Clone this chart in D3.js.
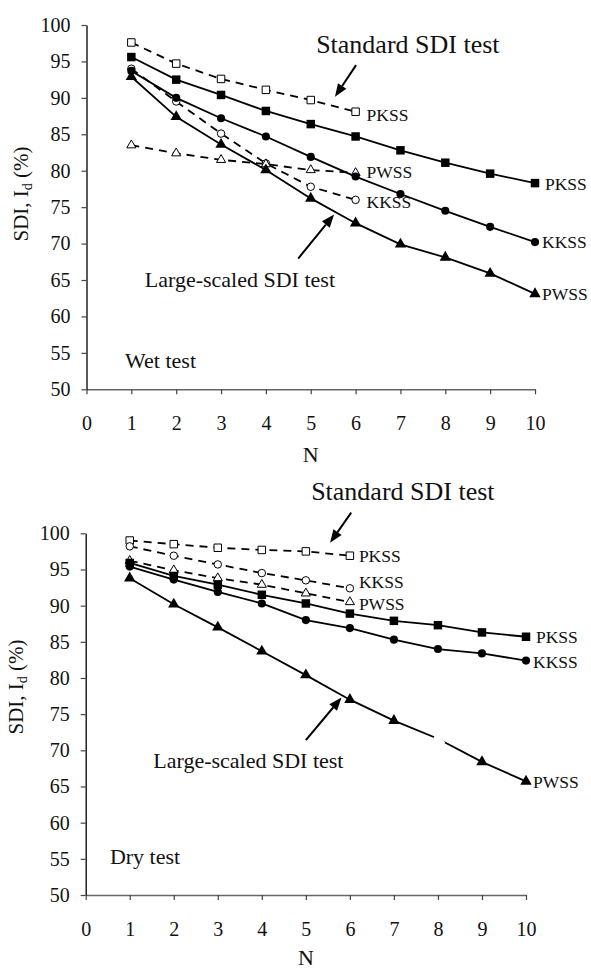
<!DOCTYPE html>
<html><head><meta charset="utf-8">
<script src="https://cdn.jsdelivr.net/npm/d3@7"></script>
<style>
html,body{margin:0;padding:0;background:#fff;}
text{font-family:"Liberation Serif","Times New Roman",serif;fill:#111;}
</style></head>
<body><svg id="c" width="591" height="970"></svg>
<script>
const N = [1,2,3,4,5,6,7,8,9,10];
const yTicks = [50,55,60,65,70,75,80,85,90,95,100];
const xTicks = [0,1,2,3,4,5,6,7,8,9,10];
const seriesNames = ["PKSS","KKSS","PWSS"];

// Wet test
const wetPKSSLarge = [95.6, 92.5, 90.4, 88.2, 86.4, 84.7, 82.8, 81.1, 79.6, 78.3];
const wetKKSSLarge = [93.7, 90.0, 87.2, 84.7, 81.9, 79.2, 76.8, 74.5, 72.3, 70.2];
const wetPWSSLarge = [92.9, 87.4, 83.6, 80.1, 76.2, 72.8, 69.9, 68.1, 65.9, 63.1];
const wetPKSSStd = [97.6, 94.7, 92.6, 91.1, 89.7, 88.1];
const wetKKSSStd = [94.0, 89.5, 85.1, 81.0, 77.8, 76.0];
const wetPWSSStd = [83.5, 82.4, 81.5, 80.9, 80.1, 79.7];

// Dry test
const dryPKSSLarge = [95.9, 94.1, 92.9, 91.5, 90.3, 88.9, 87.9, 87.3, 86.3, 85.7];
const dryKKSSLarge = [95.4, 93.6, 91.9, 90.3, 88.0, 86.9, 85.3, 84.0, 83.4, 82.4];
const dryPWSSLarge = [93.8, 90.2, 87.0, 83.7, 80.4, 77.0, 74.1, 71.6, 68.4, 65.7];
const dryPKSSStd = [99.0, 98.5, 98.0, 97.7, 97.5, 96.9];
const dryKKSSStd = [98.2, 96.9, 95.7, 94.5, 93.5, 92.4];
const dryPWSSStd = [96.2, 94.9, 93.8, 92.9, 91.7, 90.5];

const svg = d3.select("#c");

function panel(cfg){
  const x = d3.scaleLinear().domain([0,10]).range([cfg.x0, cfg.x1]);
  const y = d3.scaleLinear().domain([50,100]).range([cfg.yb, cfg.yt]);
  const g = svg.append("g");

  // x axis
  const xa = g.append("g").attr("transform",`translate(0,${cfg.yb})`)
    .call(d3.axisBottom(x).tickValues(xTicks).tickSize(5).tickSizeOuter(0).tickPadding(21.5).tickFormat(d3.format("d")));
  xa.select(".domain").attr("stroke","#666").attr("stroke-width",1.6);
  xa.selectAll(".tick line").attr("stroke","#444").attr("stroke-width",1.2);
  xa.selectAll("text").attr("font-size",20).attr("font-family","Liberation Serif").attr("fill","#111");

  // y axis
  const ya = g.append("g").attr("transform",`translate(${cfg.x0},0)`)
    .call(d3.axisLeft(y).tickValues(yTicks).tickSize(5).tickSizeOuter(0).tickPadding(11));
  ya.select(".domain").attr("stroke","#000").attr("stroke-width",1.3);
  ya.selectAll(".tick line").attr("stroke","#444").attr("stroke-width",1.2);
  ya.selectAll("text").attr("font-size",20).attr("font-family","Liberation Serif").attr("fill","#111");

  // axis titles
  g.append("text").attr("x",(cfg.x0+cfg.x1)/2).attr("y",cfg.yb+cfg.nDy).attr("text-anchor","middle")
    .attr("font-size",22).text("N");
  const yl = g.append("text").attr("transform",`translate(${cfg.ylx},${cfg.yly}) rotate(-90)`)
    .attr("text-anchor","middle").attr("font-size",21);
  yl.append("tspan").text("SDI, I");
  yl.append("tspan").attr("font-size",14).attr("dy",4).text("d");
  yl.append("tspan").attr("dy",-4).text(" (%)");

  const line = d3.line().x((d,i)=>x(N[i])).y(d=>y(d));
  const shapes = [d3.symbolSquare, d3.symbolCircle, d3.symbolTriangle];
  const filledSizes = [72, 52, 56];
  const openSizes = [56, 44, 36];

  // standard (dashed, open markers)
  cfg.std.forEach((vals,k)=>{
    g.append("path").datum(vals).attr("d",line).attr("fill","none")
      .attr("stroke","#000").attr("stroke-width",1.8).attr("stroke-dasharray","8,6");
  });
  cfg.std.forEach((vals,k)=>{
    g.selectAll(null).data(vals).join("path")
      .attr("transform",(d,i)=>`translate(${x(N[i])},${y(d)})`)
      .attr("d",d3.symbol().type(shapes[k]).size(openSizes[k]))
      .attr("fill","#fff").attr("stroke","#000").attr("stroke-width",1);
    const last = vals[vals.length-1];
    g.append("text").attr("x",x(N[vals.length-1])+cfg.stdDx)
      .attr("y",y(last)+cfg.stdDy[k]).attr("dy","0.35em").attr("font-size",17.5).text(seriesNames[k]);
  });

  // large-scaled (solid, filled markers)
  cfg.large.forEach((vals,k)=>{
    g.append("path").datum(vals).attr("d",line).attr("fill","none")
      .attr("stroke","#000").attr("stroke-width",1.8);
    g.selectAll(null).data(vals).join("path")
      .attr("transform",(d,i)=>`translate(${x(N[i])},${y(d)})`)
      .attr("d",d3.symbol().type(shapes[k]).size(filledSizes[k]))
      .attr("fill", (d,i)=> (cfg.hidden && cfg.hidden[0]===k && cfg.hidden[1]===i) ? "#fff" : "#000")
      .attr("stroke", (d,i)=> (cfg.hidden && cfg.hidden[0]===k && cfg.hidden[1]===i) ? "#fff" : "none")
      .attr("stroke-width", 2);
    const last = vals[vals.length-1];
    g.append("text").attr("x",x(N[vals.length-1])+(k===0?10:7))
      .attr("y",y(last)+cfg.largeDy[k]).attr("dy","0.35em").attr("font-size",17.5).text(seriesNames[k]);
  });

  // annotations
  g.append("text").attr("x",x(cfg.stdText[0])).attr("y",y(cfg.stdText[1]))
    .attr("font-size",26).text("Standard SDI test");
  g.append("text").attr("x",x(cfg.largeText[0])).attr("y",y(cfg.largeText[1]))
    .attr("font-size",22).text("Large-scaled SDI test");
  g.append("text").attr("x",x(cfg.caseText[0])).attr("y",y(cfg.caseText[1]))
    .attr("font-size",22).text(cfg.caseLabel);

  function arrow(a){
    const x1=x(a[0]), y1=y(a[1]), x2=x(a[2]), y2=y(a[3]);
    const ang=Math.atan2(y2-y1,x2-x1), L=13, W=5;
    const bx=x2-L*Math.cos(ang), by=y2-L*Math.sin(ang);
    g.append("line").attr("x1",x1).attr("y1",y1).attr("x2",bx).attr("y2",by)
      .attr("stroke","#000").attr("stroke-width",2);
    const px=-Math.sin(ang), py=Math.cos(ang);
    g.append("path").attr("d",`M${x2},${y2}L${bx+W*px},${by+W*py}L${bx-W*px},${by-W*py}Z`).attr("fill","#000");
  }
  arrow(cfg.stdArrow);
  arrow(cfg.largeArrow);
}

panel({
  x0:86.5, x1:535, yt:25, yb:389.3, ylx:28, yly:194, nDy:73,
  std:[wetPKSSStd, wetKKSSStd, wetPWSSStd],
  large:[wetPKSSLarge, wetKKSSLarge, wetPWSSLarge],
  stdDx:11, stdDy:[3,2,-1], largeDy:[1,0,0],
  stdText:[5.12,96.15], stdArrow:[6.01,94.5,5.54,90.15],
  largeText:[1.30,64.05], largeArrow:[4.72,67.95,5.52,74.0],
  caseText:[0.86,52.9], caseLabel:"Wet test"
});

panel({
  x0:85.7, x1:526, yt:533.3, yb:895, ylx:23, yly:687, nDy:70,
  std:[dryPKSSStd, dryKKSSStd, dryPWSSStd],
  large:[dryPKSSLarge, dryKKSSLarge, dryPWSSLarge],
  stdDx:9, stdDy:[0,-6,2], largeDy:[0,1,0],
  stdText:[5.12,104.6], stdArrow:[6.03,102.85,5.55,98.7],
  largeText:[1.535,67.5], largeArrow:[5.0,71.4,5.81,77.3],
  caseText:[0.55,54.3], caseLabel:"Dry test",
  hidden:[2,7]
});
</script></body></html>
